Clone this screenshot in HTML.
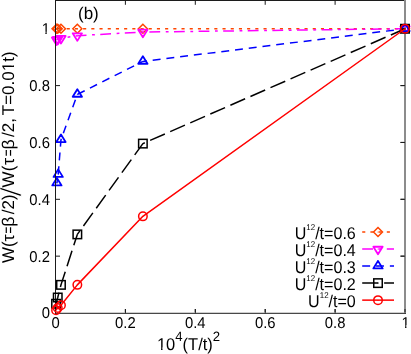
<!DOCTYPE html>
<html><head><meta charset="utf-8"><title>plot</title>
<style>
html,body{margin:0;padding:0;background:#fff;}
body{width:411px;height:354px;overflow:hidden;}
svg{display:block;will-change:transform;text-rendering:geometricPrecision;font-family:"Liberation Sans",sans-serif;fill:#000;}
</style></head><body>
<svg width="411" height="354" viewBox="0 0 411 354">
<rect x="0" y="0" width="411" height="354" fill="#ffffff"/>

<g stroke="#1a1a1a" stroke-width="1" fill="none">
<path d="M55.5 313.00 h4.5 M405.0 313.00 h-4.5"/>
<path d="M55.50 313.3 v-4.3 M55.50 0.4 v4.4"/>
<path d="M55.5 256.15 h4.5 M405.0 256.15 h-4.5"/>
<path d="M125.40 313.3 v-4.3 M125.40 0.4 v4.4"/>
<path d="M55.5 199.30 h4.5 M405.0 199.30 h-4.5"/>
<path d="M195.30 313.3 v-4.3 M195.30 0.4 v4.4"/>
<path d="M55.5 142.45 h4.5 M405.0 142.45 h-4.5"/>
<path d="M265.20 313.3 v-4.3 M265.20 0.4 v4.4"/>
<path d="M55.5 85.60 h4.5 M405.0 85.60 h-4.5"/>
<path d="M335.10 313.3 v-4.3 M335.10 0.4 v4.4"/>
<path d="M55.5 28.75 h4.5 M405.0 28.75 h-4.5"/>
<path d="M405.00 313.3 v-4.3 M405.00 0.4 v4.4"/>
</g>
<path d="M55.5 0.4 L55.5 313.3 L405.0 313.3 L405.0 0.4 Z" stroke="#1a1a1a" stroke-width="1" fill="none"/>
<text transform="translate(49.90 318.40) scale(0.945 1)" font-size="15.7" text-anchor="end">0</text>
<text transform="translate(55.50 327.60) scale(0.945 1)" font-size="15.7" text-anchor="middle">0</text>
<text transform="translate(49.90 261.55) scale(0.945 1)" font-size="15.7" text-anchor="end">0.2</text>
<text transform="translate(125.40 327.60) scale(0.945 1)" font-size="15.7" text-anchor="middle">0.2</text>
<text transform="translate(49.90 204.70) scale(0.945 1)" font-size="15.7" text-anchor="end">0.4</text>
<text transform="translate(195.30 327.60) scale(0.945 1)" font-size="15.7" text-anchor="middle">0.4</text>
<text transform="translate(49.90 147.85) scale(0.945 1)" font-size="15.7" text-anchor="end">0.6</text>
<text transform="translate(265.20 327.60) scale(0.945 1)" font-size="15.7" text-anchor="middle">0.6</text>
<text transform="translate(49.90 91.00) scale(0.945 1)" font-size="15.7" text-anchor="end">0.8</text>
<text transform="translate(335.10 327.60) scale(0.945 1)" font-size="15.7" text-anchor="middle">0.8</text>
<text transform="translate(49.90 34.15) scale(0.945 1)" font-size="15.7" text-anchor="end">1</text><g transform="translate(49.90 34.15) scale(0.945 1)" fill="#ffffff"><rect x="-9.05" y="-2.47" width="4.26" height="3.47"/><rect x="-3.39" y="-2.47" width="4.71" height="3.47"/></g>
<text transform="translate(405.50 327.60) scale(0.945 1)" font-size="15.7" text-anchor="middle">1</text><g transform="translate(405.50 327.60) scale(0.945 1)" fill="#ffffff"><rect x="-4.68" y="-2.47" width="4.26" height="3.47"/><rect x="0.97" y="-2.47" width="4.71" height="3.47"/></g>
<path d="M405.00 28.75 L142.88 28.75" fill="none" stroke="#ff4500" stroke-width="1.5" stroke-dasharray="3.1 5.1" stroke-dashoffset="1.00"/>
<path d="M142.88 28.75 L77.34 28.75" fill="none" stroke="#ff4500" stroke-width="1.5" stroke-dasharray="3.1 5.1" stroke-dashoffset="0.73"/>
<path d="M77.34 28.75 L60.96 28.75" fill="none" stroke="#ff4500" stroke-width="1.5" stroke-dasharray="3.1 5.1" stroke-dashoffset="0.66"/>
<path d="M60.96 28.75 L57.74 28.75" fill="none" stroke="#ff4500" stroke-width="1.5" stroke-dasharray="3.1 5.1" stroke-dashoffset="0.64"/>
<path d="M57.74 28.75 L56.55 28.75" fill="none" stroke="#ff4500" stroke-width="1.5" stroke-dasharray="3.1 5.1" stroke-dashoffset="3.86"/>
<path d="M405.00 24.25 L400.50 28.75 L405.00 33.25 L409.50 28.75 Z" fill="none" stroke="#ff4500" stroke-width="1.5"/><circle cx="405.00" cy="28.75" r="0.5" fill="#ff4500"/>
<path d="M142.88 24.25 L138.38 28.75 L142.88 33.25 L147.38 28.75 Z" fill="none" stroke="#ff4500" stroke-width="1.5"/><circle cx="142.88" cy="28.75" r="0.5" fill="#ff4500"/>
<path d="M77.34 24.25 L72.84 28.75 L77.34 33.25 L81.84 28.75 Z" fill="none" stroke="#ff4500" stroke-width="1.5"/><circle cx="77.34" cy="28.75" r="0.5" fill="#ff4500"/>
<path d="M60.96 24.25 L56.46 28.75 L60.96 33.25 L65.46 28.75 Z" fill="none" stroke="#ff4500" stroke-width="1.5"/><circle cx="60.96" cy="28.75" r="0.5" fill="#ff4500"/>
<path d="M57.74 24.25 L53.24 28.75 L57.74 33.25 L62.24 28.75 Z" fill="none" stroke="#ff4500" stroke-width="1.5"/><circle cx="57.74" cy="28.75" r="0.5" fill="#ff4500"/>
<path d="M56.55 24.25 L52.05 28.75 L56.55 33.25 L61.05 28.75 Z" fill="none" stroke="#ff4500" stroke-width="1.5"/><circle cx="56.55" cy="28.75" r="0.5" fill="#ff4500"/>
<path d="M405.00 28.75 L142.88 32.02" fill="none" stroke="#ff00ff" stroke-width="1.5" stroke-dasharray="10.8 5.4 2.8 5.6" stroke-dashoffset="1.15"/>
<path d="M142.88 32.02 L77.34 35.66" fill="none" stroke="#ff00ff" stroke-width="1.5" stroke-dasharray="10.8 5.4 2.8 5.6" stroke-dashoffset="17.30"/>
<path d="M77.34 35.66 L60.96 38.27" fill="none" stroke="#ff00ff" stroke-width="1.5" stroke-dasharray="10.8 5.4 2.8 5.6" stroke-dashoffset="9.13"/>
<path d="M60.96 38.27 L57.74 39.21" fill="none" stroke="#ff00ff" stroke-width="1.5" stroke-dasharray="10.8 5.4 2.8 5.6" stroke-dashoffset="1.12"/>
<path d="M57.74 39.21 L56.55 39.78" fill="none" stroke="#ff00ff" stroke-width="1.5" stroke-dasharray="10.8 5.4 2.8 5.6" stroke-dashoffset="4.48"/>
<path d="M405.00 33.96 L400.35 26.43 L409.65 26.43 Z" fill="none" stroke="#ff00ff" stroke-width="1.8" stroke-linejoin="round"/><circle cx="405.00" cy="28.75" r="0.5" fill="#ff00ff"/>
<path d="M142.88 37.23 L138.22 29.69 L147.53 29.69 Z" fill="none" stroke="#ff00ff" stroke-width="1.8" stroke-linejoin="round"/><circle cx="142.88" cy="32.02" r="0.5" fill="#ff00ff"/>
<path d="M77.34 40.87 L72.69 33.33 L81.99 33.33 Z" fill="none" stroke="#ff00ff" stroke-width="1.8" stroke-linejoin="round"/><circle cx="77.34" cy="35.66" r="0.5" fill="#ff00ff"/>
<path d="M60.96 43.48 L56.31 35.95 L65.61 35.95 Z" fill="none" stroke="#ff00ff" stroke-width="1.8" stroke-linejoin="round"/><circle cx="60.96" cy="38.27" r="0.5" fill="#ff00ff"/>
<path d="M57.74 44.42 L53.09 36.89 L62.39 36.89 Z" fill="none" stroke="#ff00ff" stroke-width="1.8" stroke-linejoin="round"/><circle cx="57.74" cy="39.21" r="0.5" fill="#ff00ff"/>
<path d="M56.55 44.99 L51.90 37.45 L61.20 37.45 Z" fill="none" stroke="#ff00ff" stroke-width="1.8" stroke-linejoin="round"/><circle cx="56.55" cy="39.78" r="0.5" fill="#ff00ff"/>
<path d="M405.00 28.75 L142.88 61.44" fill="none" stroke="#0000ff" stroke-width="1.5" stroke-dasharray="7.93 5.9" stroke-dashoffset="2.60"/>
<path d="M142.88 61.44 L77.34 94.41" fill="none" stroke="#0000ff" stroke-width="1.5" stroke-dasharray="7.93 5.9" stroke-dashoffset="3.99"/>
<path d="M77.34 94.41 L60.96 139.75" fill="none" stroke="#0000ff" stroke-width="1.5" stroke-dasharray="7.93 5.9" stroke-dashoffset="8.19"/>
<path d="M60.96 139.75 L58.19 174.57" fill="none" stroke="#0000ff" stroke-width="1.5" stroke-dasharray="7.93 5.9" stroke-dashoffset="1.08"/>
<path d="M58.19 174.57 L56.90 183.10" fill="none" stroke="#0000ff" stroke-width="1.5" stroke-dasharray="7.93 5.9" stroke-dashoffset="8.35"/>
<path d="M405.00 23.54 L400.35 31.07 L409.65 31.07 Z" fill="none" stroke="#0000ff" stroke-width="1.8" stroke-linejoin="round"/><circle cx="405.00" cy="28.75" r="0.5" fill="#0000ff"/>
<path d="M142.88 56.23 L138.22 63.76 L147.53 63.76 Z" fill="none" stroke="#0000ff" stroke-width="1.8" stroke-linejoin="round"/><circle cx="142.88" cy="61.44" r="0.5" fill="#0000ff"/>
<path d="M77.34 89.20 L72.69 96.74 L81.99 96.74 Z" fill="none" stroke="#0000ff" stroke-width="1.8" stroke-linejoin="round"/><circle cx="77.34" cy="94.41" r="0.5" fill="#0000ff"/>
<path d="M60.96 134.54 L56.31 142.07 L65.61 142.07 Z" fill="none" stroke="#0000ff" stroke-width="1.8" stroke-linejoin="round"/><circle cx="60.96" cy="139.75" r="0.5" fill="#0000ff"/>
<path d="M58.19 169.36 L53.54 176.90 L62.84 176.90 Z" fill="none" stroke="#0000ff" stroke-width="1.8" stroke-linejoin="round"/><circle cx="58.19" cy="174.57" r="0.5" fill="#0000ff"/>
<path d="M56.90 177.89 L52.25 185.42 L61.55 185.42 Z" fill="none" stroke="#0000ff" stroke-width="1.8" stroke-linejoin="round"/><circle cx="56.90" cy="183.10" r="0.5" fill="#0000ff"/>
<path d="M405.0 0.4 L55.5 0.4 L55.5 313.3" stroke="#1a1a1a" stroke-width="1" fill="none"/><rect x="404" y="0" width="2" height="23.85" fill="#8c8c8c"/><rect x="404" y="33.65" width="2" height="280.35" fill="#8c8c8c"/><rect x="55" y="312" width="351" height="1" fill="#cfcfcf"/><rect x="55" y="313" width="351" height="1" fill="#484848"/><rect x="55" y="312" width="1" height="2" fill="#1a1a1a"/><path d="M405.0 256.15 h-4.5 M125.40 313.3 v-4.3" stroke="#1a1a1a" stroke-width="1" fill="none"/><path d="M405.0 199.30 h-4.5 M195.30 313.3 v-4.3" stroke="#1a1a1a" stroke-width="1" fill="none"/><path d="M405.0 142.45 h-4.5 M265.20 313.3 v-4.3" stroke="#1a1a1a" stroke-width="1" fill="none"/><path d="M405.0 85.60 h-4.5 M335.10 313.3 v-4.3" stroke="#1a1a1a" stroke-width="1" fill="none"/><path d="M405.0 28.75 h-4.5 M405.00 313.3 v-4.3" stroke="#1a1a1a" stroke-width="1" fill="none"/>
<path d="M405.00 28.75 L142.88 143.59" fill="none" stroke="#000000" stroke-width="1.5" stroke-dasharray="16.1 5.8" stroke-dashoffset="0.65"/>
<path d="M142.88 143.59 L77.34 234.40" fill="none" stroke="#000000" stroke-width="1.5" stroke-dasharray="16.1 5.8" stroke-dashoffset="2.13"/>
<path d="M77.34 234.40 L60.96 284.86" fill="none" stroke="#000000" stroke-width="1.5" stroke-dasharray="16.1 5.8" stroke-dashoffset="4.62"/>
<path d="M60.96 284.86 L57.74 297.51" fill="none" stroke="#000000" stroke-width="1.5" stroke-dasharray="16.1 5.8" stroke-dashoffset="13.87"/>
<path d="M57.74 297.51 L56.06 303.76" fill="none" stroke="#000000" stroke-width="1.5" stroke-dasharray="16.1 5.8" stroke-dashoffset="5.02"/>
<rect x="400.75" y="24.50" width="8.5" height="8.5" fill="none" stroke="#000000" stroke-width="1.5"/><circle cx="405.00" cy="28.75" r="0.5" fill="#000000"/>
<rect x="138.62" y="139.34" width="8.5" height="8.5" fill="none" stroke="#000000" stroke-width="1.5"/><circle cx="142.88" cy="143.59" r="0.5" fill="#000000"/>
<rect x="73.09" y="230.15" width="8.5" height="8.5" fill="none" stroke="#000000" stroke-width="1.5"/><circle cx="77.34" cy="234.40" r="0.5" fill="#000000"/>
<rect x="56.71" y="280.61" width="8.5" height="8.5" fill="none" stroke="#000000" stroke-width="1.5"/><circle cx="60.96" cy="284.86" r="0.5" fill="#000000"/>
<rect x="53.49" y="293.26" width="8.5" height="8.5" fill="none" stroke="#000000" stroke-width="1.5"/><circle cx="57.74" cy="297.51" r="0.5" fill="#000000"/>
<rect x="51.81" y="299.51" width="8.5" height="8.5" fill="none" stroke="#000000" stroke-width="1.5"/><circle cx="56.06" cy="303.76" r="0.5" fill="#000000"/>
<path d="M405.00 28.75 L142.88 216.35 L77.34 284.86 L60.96 305.33 L57.74 307.88 L56.06 310.16" fill="none" stroke="#ff0000" stroke-width="1.5" stroke-linejoin="round"/>
<circle cx="405.00" cy="28.75" r="4.25" fill="none" stroke="#ff0000" stroke-width="1.5"/><circle cx="405.00" cy="28.75" r="0.5" fill="#ff0000"/>
<circle cx="142.88" cy="216.35" r="4.25" fill="none" stroke="#ff0000" stroke-width="1.5"/><circle cx="142.88" cy="216.35" r="0.5" fill="#ff0000"/>
<circle cx="77.34" cy="284.86" r="4.25" fill="none" stroke="#ff0000" stroke-width="1.5"/><circle cx="77.34" cy="284.86" r="0.5" fill="#ff0000"/>
<circle cx="60.96" cy="305.33" r="4.25" fill="none" stroke="#ff0000" stroke-width="1.5"/><circle cx="60.96" cy="305.33" r="0.5" fill="#ff0000"/>
<circle cx="57.74" cy="307.88" r="4.25" fill="none" stroke="#ff0000" stroke-width="1.5"/><circle cx="57.74" cy="307.88" r="0.5" fill="#ff0000"/>
<circle cx="56.06" cy="310.16" r="4.25" fill="none" stroke="#ff0000" stroke-width="1.5"/><circle cx="56.06" cy="310.16" r="0.5" fill="#ff0000"/>
<text transform="translate(355.80 239.20) scale(0.945 1)" font-size="17" text-anchor="end">U<tspan font-size="8.4" dy="-9">12</tspan><tspan dy="9">/t=0.6</tspan></text>
<path d="M362.2 232.05 H394.0" fill="none" stroke="#ff4500" stroke-width="1.5" stroke-dasharray="3.1 5.1"/>
<path d="M378.00 227.55 L373.50 232.05 L378.00 236.55 L382.50 232.05 Z" fill="none" stroke="#ff4500" stroke-width="1.5"/><circle cx="378.00" cy="232.05" r="0.5" fill="#ff4500"/>
<text transform="translate(355.80 256.22) scale(0.945 1)" font-size="17" text-anchor="end">U<tspan font-size="8.4" dy="-9">12</tspan><tspan dy="9">/t=0.4</tspan></text>
<path d="M362.2 249.07 H394.0" fill="none" stroke="#ff00ff" stroke-width="1.5" stroke-dasharray="10.8 5.4 2.8 5.6"/>
<path d="M378.00 254.28 L373.35 246.74 L382.65 246.74 Z" fill="none" stroke="#ff00ff" stroke-width="1.8" stroke-linejoin="round"/><circle cx="378.00" cy="249.07" r="0.5" fill="#ff00ff"/>
<text transform="translate(355.80 273.24) scale(0.945 1)" font-size="17" text-anchor="end">U<tspan font-size="8.4" dy="-9">12</tspan><tspan dy="9">/t=0.3</tspan></text>
<path d="M362.2 266.09 H394.0" fill="none" stroke="#0000ff" stroke-width="1.5" stroke-dasharray="7.93 5.9"/>
<path d="M378.00 260.88 L373.35 268.42 L382.65 268.42 Z" fill="none" stroke="#0000ff" stroke-width="1.8" stroke-linejoin="round"/><circle cx="378.00" cy="266.09" r="0.5" fill="#0000ff"/>
<text transform="translate(355.80 290.26) scale(0.945 1)" font-size="17" text-anchor="end">U<tspan font-size="8.4" dy="-9">12</tspan><tspan dy="9">/t=0.2</tspan></text>
<path d="M362.2 283.11 H394.0" fill="none" stroke="#000000" stroke-width="1.5" stroke-dasharray="16.1 5.8"/>
<rect x="373.75" y="278.86" width="8.5" height="8.5" fill="none" stroke="#000000" stroke-width="1.5"/><circle cx="378.00" cy="283.11" r="0.5" fill="#000000"/>
<text transform="translate(355.80 307.28) scale(0.945 1)" font-size="17" text-anchor="end">U<tspan font-size="8.4" dy="-9">12</tspan><tspan dy="9">/t=0</tspan></text>
<path d="M362.2 300.13 H394.0" fill="none" stroke="#ff0000" stroke-width="1.5"/>
<circle cx="378.00" cy="300.13" r="4.25" fill="none" stroke="#ff0000" stroke-width="1.5"/><circle cx="378.00" cy="300.13" r="0.5" fill="#ff0000"/>
<text transform="translate(78.00 19.30) scale(1.0 1)" font-size="17" text-anchor="start">(b)</text>
<text transform="translate(156.90 350.00) scale(0.97 1)" font-size="17" text-anchor="start">10<tspan font-size="13.6" dy="-9.1">4</tspan><tspan dy="9.1">(T/t)</tspan><tspan font-size="13.6" dy="-9.1">2</tspan></text><g transform="translate(156.90 350.00) scale(0.97 1)" fill="#ffffff"><rect x="-0.34" y="-2.57" width="4.62" height="3.57"/><rect x="5.78" y="-2.57" width="3.57" height="3.57"/></g>
<text stroke="#ffffff" stroke-width="1.05" stroke-linejoin="miter" transform="translate(21.00 196.80) rotate(-90) scale(1.22 1)" font-size="29.3" text-anchor="start">/</text>
<text transform="translate(14.20 263.00) rotate(-90) scale(1.0 1)" font-size="17" text-anchor="start">W(</text>
<text transform="translate(14.20 241.50) rotate(-90) scale(1.08 1)" font-size="17" text-anchor="start">τ</text>
<text transform="translate(14.20 233.40) rotate(-90) scale(0.69 1)" font-size="17" text-anchor="start">=</text>
<text transform="translate(14.20 226.70) rotate(-90) scale(1.05 1)" font-size="17" text-anchor="start">β</text>
<text transform="translate(14.20 187.40) rotate(-90) scale(1.0 1)" font-size="17" text-anchor="start">W(</text>
<text transform="translate(14.20 165.00) rotate(-90) scale(1.08 1)" font-size="17" text-anchor="start">τ</text>
<text transform="translate(14.20 156.30) rotate(-90) scale(0.69 1)" font-size="17" text-anchor="start">=</text>
<text transform="translate(14.20 149.60) rotate(-90) scale(1.05 1)" font-size="17" text-anchor="start">β</text>
<text transform="translate(14.20 214.20) rotate(-90) scale(1.0 1)" font-size="17" text-anchor="start">/2)</text>
<text transform="translate(14.20 137.00) rotate(-90) scale(1.0 1)" font-size="17" text-anchor="start">/2,</text>
<text transform="translate(14.20 115.20) rotate(-90) scale(1.0 1)" font-size="17" text-anchor="start">T=0.01t)</text><g transform="translate(14.20 115.20) rotate(-90) scale(1.0 1)" fill="#ffffff"><rect x="43.60" y="-2.57" width="4.62" height="3.57"/><rect x="49.72" y="-2.57" width="3.57" height="3.57"/></g>
</svg></body></html>
